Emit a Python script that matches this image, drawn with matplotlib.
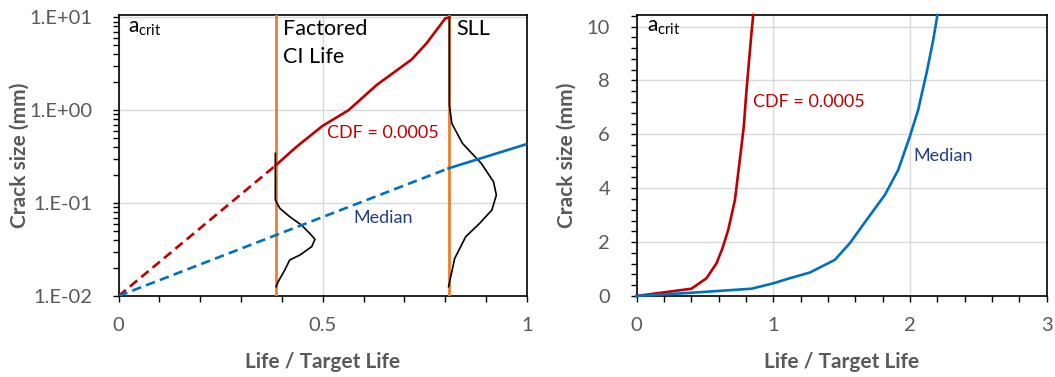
import matplotlib
matplotlib.use("Agg")
import matplotlib.pyplot as plt
import numpy as np
from matplotlib.ticker import FixedLocator, MultipleLocator, LogLocator, NullFormatter

# 字体：Lato 与 Calibri 接近
plt.rcParams['font.family'] = ['Lato', 'DejaVu Sans']
plt.rcParams['mathtext.fontset'] = 'custom'
plt.rcParams['mathtext.rm'] = 'Lato'
plt.rcParams['mathtext.it'] = 'Lato:italic'

# ---------------- data: left panel (log scale) ----------------
cdf_dash_x = [0.0, 0.384]
cdf_dash_y = [0.01, 0.253]
cdf_solid_x = [0.384, 0.436, 0.499, 0.563, 0.632, 0.718, 0.754, 0.80, 0.81]
cdf_solid_y = [0.253, 0.405, 0.676, 1.0, 1.87, 3.53, 5.25, 9.75, 10.0]

med_dash_x = [0.0, 0.808]
med_dash_y = [0.01, 0.237]
med_solid_x = [0.808, 1.0]
med_solid_y = [0.237, 0.433]

factored_life = 0.385
sll_life = 0.808

pdf1_x = [0.384, 0.384, 0.395, 0.419, 0.448, 0.468, 0.481, 0.473, 0.444, 0.419, 0.407, 0.391, 0.386]
pdf1_y = [0.343, 0.108, 0.0879, 0.0715, 0.058, 0.0473, 0.0408, 0.034, 0.0276, 0.0244, 0.019, 0.0143, 0.0126]

pdf2_x = [0.810, 0.810, 0.816, 0.842, 0.888, 0.918, 0.925, 0.914, 0.884, 0.850, 0.823, 0.808]
pdf2_y = [10.0, 1.14, 0.72, 0.44, 0.268, 0.170, 0.122, 0.0843, 0.0605, 0.0435, 0.0254, 0.0126]

left_yticks = [0.01, 0.1, 1.0, 10.0]
left_ylabels = ['1.E-02', '1.E-01', '1.E+00', '1.E+01']
left_xticks = [0, 0.5, 1]
left_xlabels = ['0', '0.5', '1']

# ---------------- data: right panel (linear) ----------------
cdf_lin_x = [0.0, 0.402, 0.512, 0.585, 0.629, 0.671, 0.72, 0.756, 0.785, 0.805, 0.824, 0.841, 0.854]
cdf_lin_y = [0.0, 0.27, 0.66, 1.21, 1.77, 2.45, 3.56, 5.05, 6.29, 7.65, 8.76, 9.75, 10.43]

med_lin_x = [0.0, 0.402, 0.841, 1.0, 1.122, 1.268, 1.451, 1.561, 1.683, 1.817, 1.915, 2.0, 2.061, 2.122, 2.171, 2.202]
med_lin_y = [0.0, 0.12, 0.27, 0.47, 0.66, 0.87, 1.34, 1.96, 2.82, 3.75, 4.68, 5.92, 6.91, 8.27, 9.5, 10.43]

right_yticks = [0, 2, 4, 6, 8, 10]
right_xticks = [0, 1, 2, 3]

RED = '#C00000'
BLUE = '#0070C0'
ORANGE = '#ED7D31'
NAVY = '#203F80'
GREY = '#595959'
GRID = '#D9D9D9'

fig = plt.figure(figsize=(10.55, 3.77), dpi=100)
ax1 = fig.add_axes([118.5 / 1055, 1 - 296 / 377, 408.5 / 1055, 281 / 377])
ax2 = fig.add_axes([636.5 / 1055, 1 - 296 / 377, 410 / 1055, 281 / 377])


def style_axes(ax):
    for s in ax.spines.values():
        s.set_color('black')
        s.set_linewidth(1.2)
    ax.tick_params(which='both', direction='out', length=4, width=1.0, color='black',
                   labelcolor=GREY, labelsize=14.5)
    ax.tick_params(axis='y', which='both', pad=15)
    ax.tick_params(axis='x', which='both', pad=11)
    ax.grid(True, which='major', color=GRID, linewidth=1.0)
    ax.set_axisbelow(True)
    ax.set_xlabel('Life / Target Life', fontsize=15, fontweight='bold', color=GREY, va='center')
    ax.set_ylabel('Crack size (mm)', fontsize=15, fontweight='bold', color=GREY, va='center')


# ---------------- left ----------------
style_axes(ax1)
ax1.set_yscale('log')
ax1.set_xlim(0, 1)
ax1.set_ylim(0.01, 10.6)
ax1.yaxis.set_major_locator(FixedLocator(left_yticks))
ax1.set_yticklabels(left_ylabels)
ax1.yaxis.set_minor_locator(LogLocator(base=10, subs=np.arange(2, 10)))
ax1.yaxis.set_minor_formatter(NullFormatter())
ax1.set_xticks(left_xticks)
ax1.set_xticklabels(left_xlabels)
ax1.xaxis.set_minor_locator(MultipleLocator(0.1))

ax1.axvline(factored_life, color=ORANGE, lw=2.0, zorder=3)
ax1.axvline(sll_life, color=ORANGE, lw=2.0, zorder=3)
ax1.plot(pdf1_x, pdf1_y, color='black', lw=1.2, zorder=4)
ax1.plot(pdf2_x, pdf2_y, color='black', lw=1.2, zorder=4)
ax1.plot(cdf_dash_x, cdf_dash_y, color=RED, lw=1.9, dashes=(3.6, 2.0), zorder=5)
ax1.plot(cdf_solid_x, cdf_solid_y, color=RED, lw=1.9, zorder=5)
ax1.plot(med_dash_x, med_dash_y, color=BLUE, lw=1.9, dashes=(3.6, 2.0), zorder=5)
ax1.plot(med_solid_x, med_solid_y, color=BLUE, lw=1.9, zorder=5)

ax1.text(0.023, 6.78, r'a$_{\mathrm{crit}}$', fontsize=15, va='baseline', ha='left')
ax1.text(0.402, 6.44, 'Factored', fontsize=15.5, va='baseline', ha='left')
ax1.text(0.402, 3.22, 'CI Life', fontsize=15.5, va='baseline', ha='left')
ax1.text(0.828, 6.44, 'SLL', fontsize=15.5, va='baseline', ha='left')
ax1.text(0.511, 0.499, 'CDF = 0.0005', fontsize=13, color=RED, va='baseline', ha='left')
ax1.text(0.575, 0.0606, 'Median', fontsize=13, color=NAVY, va='baseline', ha='left')

ax1.yaxis.set_label_coords(-0.243, 0.5)
ax1.xaxis.set_label_coords(0.5, -0.235)

# ---------------- right ----------------
style_axes(ax2)
ax2.set_xlim(0, 3)
ax2.set_ylim(0, 10.43)
ax2.set_yticks(right_yticks)
ax2.set_xticks(right_xticks)
ax2.yaxis.set_minor_locator(MultipleLocator(0.4))
ax2.xaxis.set_minor_locator(MultipleLocator(0.2))

ax2.plot(cdf_lin_x, cdf_lin_y, color=RED, lw=1.9, zorder=5, clip_on=False)
ax2.plot(med_lin_x, med_lin_y, color=BLUE, lw=1.9, zorder=5, clip_on=False)

ax2.text(0.078, 9.81, r'a$_{\mathrm{crit}}$', fontsize=15, va='baseline', ha='left')
ax2.text(0.852, 7.03, 'CDF = 0.0005', fontsize=13, color=RED, va='baseline', ha='left')
ax2.text(2.026, 5.02, 'Median', fontsize=13, color=NAVY, va='baseline', ha='left')

ax2.yaxis.set_label_coords(-0.17, 0.5)
ax2.xaxis.set_label_coords(0.5, -0.235)

fig.savefig('out.png', dpi=100)
